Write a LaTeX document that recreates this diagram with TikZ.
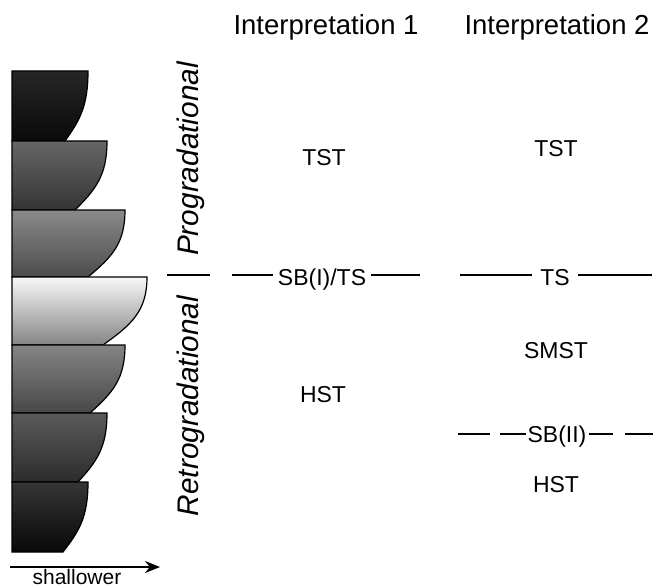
\documentclass[tikz,border=0pt]{standalone}
\usepackage{fontspec}
\setmainfont{Liberation Sans}
\usetikzlibrary{arrows.meta}

% one shaded bed of the stacking column:
% #1 top y, #2 bottom y, #3 right x at top, #4 right x at bottom, #5/#6 shade colours
\newcommand{\bedpath}[6]{%
  \path[bed,top color=#5,bottom color=#6]
    (12,#1) -- (#3,#1)
    .. controls (#3,{#1+0.5*(#2-#1)}) and ({#3-0.35*(#3-#4)},{#2-0.3*(#2-#1)}) .. (#4,#2)
    -- (12,#2) -- cycle;}

\definecolor{gA}{HTML}{262626}\definecolor{gAb}{HTML}{0A0A0A}
\definecolor{gB}{HTML}{666666}\definecolor{gBb}{HTML}{343434}
\definecolor{gC}{HTML}{8A8A8A}\definecolor{gCb}{HTML}{4C4C4C}
\definecolor{gD}{HTML}{F8F8F8}\definecolor{gDb}{HTML}{858585}
\definecolor{gE}{HTML}{858585}\definecolor{gEb}{HTML}{474747}
\definecolor{gF}{HTML}{5A5A5A}\definecolor{gFb}{HTML}{2C2C2C}
\definecolor{gG}{HTML}{363636}\definecolor{gGb}{HTML}{080808}

\begin{document}
\begin{tikzpicture}[x=1pt,y=-1pt,
  bed/.style={draw=black,line width=1.2pt},
  heading/.style={anchor=base,inner sep=0pt,font=\fontsize{27.5}{32}\selectfont},
  tract/.style={anchor=base,inner sep=0pt,font=\fontsize{23}{28}\selectfont},
  trend/.style={anchor=base,inner sep=0pt,rotate=90,font=\fontsize{29.8}{35}\selectfont\itshape},
  surface/.style={line width=2pt},
]
\useasboundingbox (0,0) rectangle (655,588);

% stacking column
\bedpath{71}{141}{88}{65}{gA}{gAb}
\bedpath{141}{210}{107}{75}{gB}{gBb}
\bedpath{210}{277}{125}{88}{gC}{gCb}
\bedpath{277}{345}{147}{103}{gD}{gDb}
\bedpath{345}{413}{125}{90}{gE}{gEb}
\bedpath{413}{482}{107}{78}{gF}{gFb}
\bedpath{482}{552}{88}{63}{gG}{gGb}

% direction arrow
\coordinate (arrL) at (10,567);
\coordinate (arrR) at (160,567);
\draw[line width=2pt,-{Stealth[length=15pt,width=12pt]}] (arrL) -- (arrR);
\node[anchor=base,inner sep=0pt,font=\fontsize{21}{25}\selectfont] (shallow) at (77,584.5) {shallower};

% stacking trends
\node[trend] (prog) at (198,159) {Progradational};
\node[trend] (retro) at (198,406) {Retrogradational};

% column headings
\node[heading] (int1) at (326,35) {Interpretation 1};
\node[heading] (int2) at (557,35) {Interpretation 2};

% interpretation 1
\node[tract] (tst1) at (324,166) {TST};
\node[tract] (sbts) at (322,285) {SB(I)/TS};
\node[tract] (hst1) at (323,402) {HST};

% interpretation 2
\node[tract] (tst2) at (556,157) {TST};
\node[tract] (ts) at (555,285) {TS};
\node[tract] (smst) at (556,358) {SMST};
\node[tract] (sbii) at (557,442) {SB(II)};
\node[tract] (hst2) at (556,492) {HST};

% surface SB(I)/TS
\coordinate (a1) at (167,275); \coordinate (a2) at (210,275);
\coordinate (a3) at (232,275); \coordinate (a4) at (420,275);
\draw[surface] (a1) -- (a2);
\draw[surface] (a3) -- ([xshift=-5pt]a3 -| sbts.west);
\draw[surface] ([xshift=5pt]a4 -| sbts.east) -- (a4);

% surface TS
\coordinate (b1) at (460,275); \coordinate (b2) at (652,275);
\draw[surface] (b1) -- ([xshift=-8pt]b1 -| ts.west);
\draw[surface] ([xshift=8pt]b2 -| ts.east) -- (b2);

% surface SB(II)
\coordinate (c1) at (458,434); \coordinate (c2) at (490,434);
\coordinate (c3) at (500,434); \coordinate (c4) at (625,434);
\coordinate (c5) at (653,434); \coordinate (c6) at (613,434);
\draw[surface] (c1) -- (c2);
\draw[surface] (c3) -- ([xshift=-1pt]c3 -| sbii.west);
\draw[surface] ([xshift=2pt]c6 -| sbii.east) -- (c6);
\draw[surface] (c4) -- (c5);
\end{tikzpicture}
\end{document}
